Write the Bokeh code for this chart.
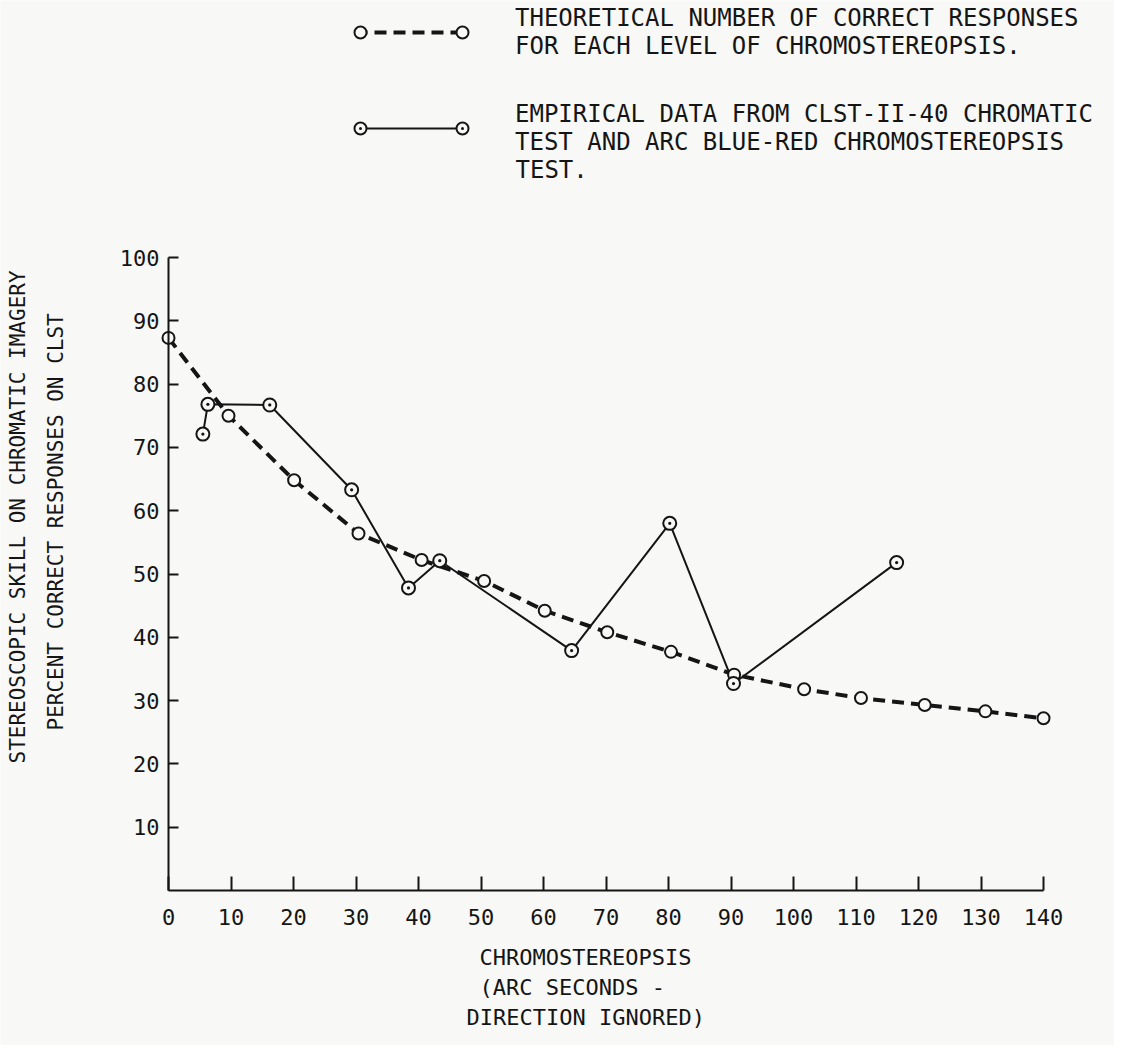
from bokeh.plotting import figure
from bokeh.models import Range1d, FixedTicker, Label, Legend, LegendItem
from bokeh.embed import file_html
from bokeh.resources import INLINE

# ---- data ----
theo_x = [0, 9.6, 20.1, 30.4, 40.5, 50.5, 60.2, 70.2, 80.4, 90.5, 101.7, 110.8, 121.0, 130.7, 140.0]
theo_y = [87.3, 75.0, 64.8, 56.4, 52.2, 48.9, 44.2, 40.8, 37.7, 34.1, 31.8, 30.4, 29.3, 28.3, 27.2]

emp_x = [5.5, 6.3, 16.2, 29.3, 38.4, 43.4, 64.5, 80.2, 90.4, 116.5]
emp_y = [72.1, 76.8, 76.7, 63.3, 47.8, 52.1, 37.9, 58.0, 32.7, 51.8]

x_ticks = [0, 10, 20, 30, 40, 50, 60, 70, 80, 90, 100, 110, 120, 130, 140]
y_ticks = [10, 20, 30, 40, 50, 60, 70, 80, 90, 100]

theo_label = "THEORETICAL NUMBER OF CORRECT RESPONSES\nFOR EACH LEVEL OF CHROMOSTEREOPSIS."
emp_label = "EMPIRICAL DATA FROM CLST-II-40 CHROMATIC\nTEST AND ARC BLUE-RED CHROMOSTEREOPSIS"
emp_label_tail = "TEST."
y_title_1 = "STEREOSCOPIC SKILL ON CHROMATIC IMAGERY"
y_title_2 = "PERCENT CORRECT RESPONSES ON CLST"
x_title_lines = ["CHROMOSTEREOPSIS", "(ARC SECONDS -", "DIRECTION IGNORED)"]

# ---- style / layout ----
FONT = "DejaVu Sans Mono"
INK = "#151515"
BG = "#f8f8f6"

W, H = 1114, 1045          # the frame fills the whole canvas
X0, Y0 = 168, 890          # canvas pixel of the data origin
PX_X, PX_Y = 6.25, 6.33    # pixels per data unit

x_range = Range1d(-X0 / PX_X, (W - X0) / PX_X)
y_range = Range1d(-(H - Y0) / PX_Y, Y0 / PX_Y)

p = figure(width=W, height=H, output_backend="svg", toolbar_location=None,
           x_range=x_range, y_range=y_range,
           min_border_left=0, min_border_right=0, min_border_top=0, min_border_bottom=0)
p.background_fill_color = BG
p.border_fill_color = BG
p.outline_line_color = None
p.xgrid.visible = False
p.ygrid.visible = False

for ax in (p.xaxis[0], p.yaxis[0]):
    ax.fixed_location = 0
    ax.axis_line_color = INK
    ax.axis_line_width = 2
    ax.major_tick_line_color = INK
    ax.major_tick_line_width = 2
    ax.major_tick_out = 0
    ax.minor_tick_line_color = None
    ax.major_label_text_font = FONT
    ax.major_label_text_font_size = "22px"
    ax.major_label_text_color = INK

p.xaxis.ticker = FixedTicker(ticks=x_ticks)
p.xaxis.bounds = (0, 140)
p.xaxis.major_tick_in = 14
p.xaxis.major_label_standoff = 18
p.yaxis.ticker = FixedTicker(ticks=y_ticks)
p.yaxis.bounds = (0, 100)
p.yaxis.major_tick_in = 10
p.yaxis.major_label_standoff = 9

r_theo_line = p.line(theo_x, theo_y, line_color=INK, line_width=4, line_dash="12 7")
r_emp_line = p.line(emp_x, emp_y, line_color=INK, line_width=2)
r_theo_pts = p.scatter(theo_x, theo_y, marker="circle", size=12,
                       fill_color=BG, line_color=INK, line_width=2)
r_emp_pts = p.scatter(emp_x, emp_y, marker="circle_dot", size=13,
                      fill_color=BG, line_color=INK, line_width=2)

LEG_BOTTOM = 885           # legend bottom, measured up from the canvas bottom
leg_common = dict(orientation="vertical", spacing=32, label_height=64,
                  padding=0, margin=0, border_line_color=None, background_fill_alpha=0,
                  label_text_font=FONT, label_text_font_size="24px",
                  label_text_line_height=1.28, label_text_color=INK)

# key lines with their texts
p.add_layout(Legend(items=[LegendItem(label=theo_label, renderers=[r_theo_line]),
                           LegendItem(label=emp_label, renderers=[r_emp_line])],
                    location=(355, LEG_BOTTOM), glyph_width=112, glyph_height=20,
                    label_standoff=48, **leg_common))
# key markers at both ends of each key line
for lx in (345, 447):
    p.add_layout(Legend(items=[LegendItem(label=" ", renderers=[r_theo_pts]),
                               LegendItem(label=" ", renderers=[r_emp_pts])],
                        location=(lx, LEG_BOTTOM), glyph_width=30, glyph_height=30,
                        label_standoff=0, **leg_common))

p.add_layout(Label(x=515, y=876, x_units="screen", y_units="screen", text=emp_label_tail,
                   text_align="left", text_baseline="middle",
                   text_font=FONT, text_font_size="24px", text_color=INK))

# axis titles (screen units: from the canvas bottom-left)
for txt, lx, ly in [(y_title_1, 17, 282), (y_title_2, 55, 315)]:
    p.add_layout(Label(x=lx, y=ly, x_units="screen", y_units="screen", text=txt,
                       angle=90, angle_units="deg", text_align="left", text_baseline="middle",
                       text_font=FONT, text_font_size="21px", text_color=INK))

for txt, lx, ly in zip(x_title_lines, [479, 479, 466], [88, 58, 28]):
    p.add_layout(Label(x=lx, y=ly, x_units="screen", y_units="screen", text=txt,
                       text_align="left", text_baseline="middle",
                       text_font=FONT, text_font_size="22px", text_color=INK))

open("out.html", "w").write(file_html(p, INLINE))
